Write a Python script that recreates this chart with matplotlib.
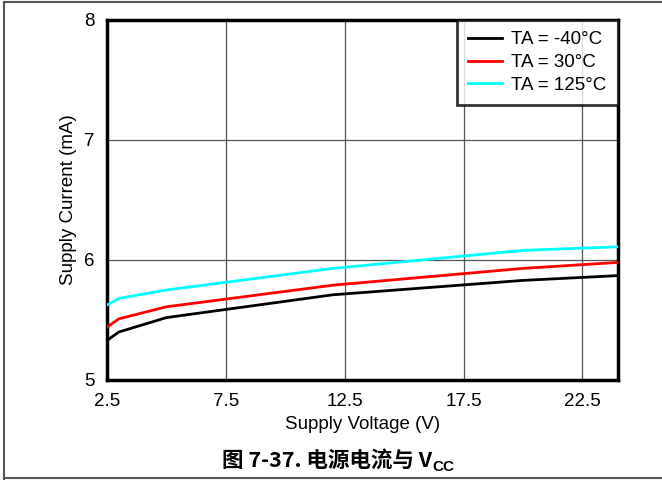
import matplotlib
matplotlib.use("Agg")
import matplotlib.pyplot as plt
from matplotlib.lines import Line2D

# Tension d'alimentation (V) et courant (mA) pour chaque température
vcc = [2.5, 3, 5, 12, 20, 24]
i_m40 = [5.33, 5.40, 5.52, 5.71, 5.83, 5.87]
i_30 = [5.44, 5.51, 5.61, 5.79, 5.93, 5.98]
i_125 = [5.625, 5.68, 5.75, 5.93, 6.08, 6.11]
labels = ["TA = -40°C", "TA = 30°C", "TA = 125°C"]
couleurs = ["black", "red", "cyan"]
xticks = [2.5, 7.5, 12.5, 17.5, 22.5]
yticks = [5, 6, 7, 8]

plt.rcParams["font.family"] = ["Liberation Sans", "DejaVu Sans"]

fig = plt.figure(figsize=(6.62, 4.8), dpi=100)
ax = fig.add_axes([107 / 662, 1 - 380 / 480, (618 - 107) / 662, 360 / 480])

for serie, lab, c in zip([i_m40, i_30, i_125], labels, couleurs):
    ax.plot(vcc, serie, color=c, lw=2, label=lab, zorder=3)

ax.set_xlim(2.5, 24)
ax.set_ylim(5, 8)
ax.set_xticks(xticks)
ax.set_xticklabels([str(v) for v in xticks])
ax.set_yticks(yticks)
ax.grid(True, color="#555555", lw=0.9)
ax.tick_params(length=0, labelsize=13.5, pad=9)
for s in ax.spines.values():
    s.set_linewidth(2.5)
ax.set_xlabel("Supply Voltage (V)", fontsize=13.5, labelpad=5)
ax.set_ylabel("Supply Current (mA)", fontsize=13.5, labelpad=5)

leg = ax.legend(loc="upper right", fontsize=13.5, frameon=True, fancybox=False,
                borderaxespad=0, handlelength=1.8, labelspacing=0.3,
                borderpad=0.6, handletextpad=0.5)
leg.get_frame().set_edgecolor("black")
leg.get_frame().set_linewidth(2)

# cadre gris de la page
for coords in [([4 / 662, 4 / 662], [0.003, 0.996]),
               ([4 / 662, 1.0], [0.996, 0.996]),
               ([4 / 662, 1.0], [0.004, 0.004])]:
    fig.add_artist(Line2D(coords[0], coords[1], color="#555555", lw=1.5))

# légende de la figure : texte principal + indice
cap = fig.text(222 / 662, 1 - 467 / 480, "图 7-37. 电源电流与 V", fontsize=15.5,
               fontweight="bold", family=["Noto Sans CJK SC", "DejaVu Sans"],
               va="baseline", ha="left")
fig.canvas.draw()
bb = cap.get_window_extent()
fig.text(bb.x1 / 662 + 0.001, 1 - 471 / 480, "CC", fontsize=11, fontweight="bold",
         family=["Liberation Sans"], va="baseline", ha="left")

fig.savefig("out.png", dpi=100)
